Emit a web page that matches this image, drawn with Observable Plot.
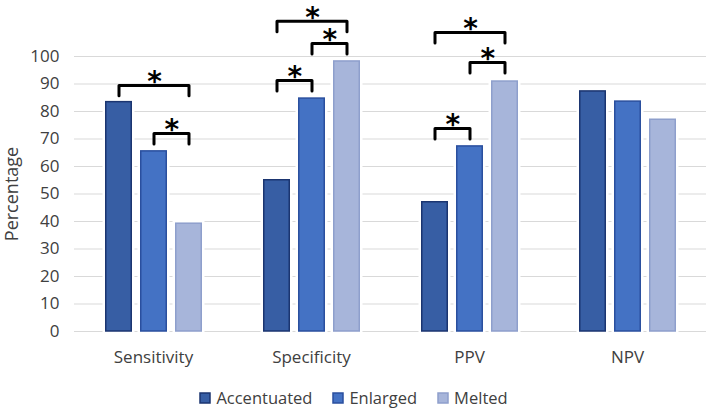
<!DOCTYPE html>
<html><head><meta charset="utf-8">
<script src="https://cdn.jsdelivr.net/npm/d3@7"></script>
<script src="https://cdn.jsdelivr.net/npm/@observablehq/plot@0.6"></script>
<style>
body{margin:0;background:#fff;}
#chart{width:708px;}
.lg-swatches{justify-content:center !important;margin:6px 0 0 0 !important;}
.lg-swatch{margin-right:21px !important;}
.lg-swatch:last-of-type{margin-right:0 !important;}
.lg-swatch > svg{margin-right:6px !important;}
.lg-swatch:nth-of-type(1) rect{stroke:#1b3570;stroke-width:1.5px;}
.lg-swatch:nth-of-type(2) rect{stroke:#2a4f9e;stroke-width:1.5px;}
.lg-swatch:nth-of-type(3) rect{stroke:#8e9fcc;stroke-width:1.5px;}
g[aria-label="y-axis label"] text{font-size:18px;}
</style></head><body><div id="chart"></div>
<script>
const categories = ["Sensitivity", "Specificity", "PPV", "NPV"];
const series = ["Accentuated", "Enlarged", "Melted"];
const accentuated = [83.4, 55.0, 47.0, 87.3];
const enlarged = [65.5, 84.7, 67.3, 83.6];
const melted = [39.2, 98.2, 90.9, 77.0];
const yTicks = [0, 10, 20, 30, 40, 50, 60, 70, 80, 90, 100];

// significance brackets
const bracketCategory = ["Sensitivity", "Sensitivity", "Specificity", "Specificity", "Specificity", "PPV", "PPV", "PPV"];
const bracketFrom = ["Accentuated", "Enlarged", "Accentuated", "Accentuated", "Enlarged", "Accentuated", "Enlarged", "Accentuated"];
const bracketTo = ["Melted", "Melted", "Enlarged", "Melted", "Melted", "Enlarged", "Melted", "Melted"];
const bracketTop = [89.5, 72.0, 91.3, 112.8, 104.7, 73.8, 97.8, 108.7];

const fills = ["#375ea4", "#4472c4", "#a7b5da"];
const strokes = ["#1b3570", "#2a4f9e", "#8e9fcc"];

const values = [accentuated, enlarged, melted];
const data = [];
series.forEach((s, si) => categories.forEach((c, ci) => data.push({cat: c, series: s, value: values[si][ci]})));

const W = 708, H = 375, ML = 74, MR = 2, MT = 56, MB = 44;
const pInner = 0.24, pOuter = 0.845;
const facetW = (W - ML - MR) / categories.length;
const step = facetW / (series.length - pInner + 2 * pOuter);
const leg = 3.8;

const bracketPts = [];
const stars = [];
bracketCategory.forEach((c, i) => {
  const top = bracketTop[i];
  bracketPts.push({id: i, cat: c, s: bracketFrom[i], v: top - leg});
  bracketPts.push({id: i, cat: c, s: bracketFrom[i], v: top});
  bracketPts.push({id: i, cat: c, s: bracketTo[i], v: top});
  bracketPts.push({id: i, cat: c, s: bracketTo[i], v: top - leg});
  stars.push({cat: c, s: bracketFrom[i], v: top, span: series.indexOf(bracketTo[i]) - series.indexOf(bracketFrom[i])});
});

const font = "'Open Sans', sans-serif";

const marks = [
  Plot.ruleY(yTicks, {stroke: "#d9d9d9", strokeWidth: 1.2}),
];
series.forEach((s, si) => {
  marks.push(Plot.barY(data, {filter: d => d.series === s, fx: "cat", x: "series", y: "value", fill: "white", stroke: "white", strokeWidth: 5}));
});
series.forEach((s, si) => {
  marks.push(Plot.barY(data, {filter: d => d.series === s, fx: "cat", x: "series", y: "value", fill: fills[si], stroke: strokes[si], strokeWidth: 1.5, insetLeft: 0.75, insetRight: 0.75}));
});
marks.push(Plot.line(bracketPts, {fx: "cat", x: "s", y: "v", z: "id", stroke: "black", strokeWidth: 3, strokeLinejoin: "round", strokeLinecap: "round"}));
[1, 2].forEach(sp => {
  marks.push(Plot.text(stars, {filter: d => d.span === sp, fx: "cat", x: "s", y: "v", text: () => "*", dx: sp * step / 2, dy: 5.5, lineAnchor: "bottom", fontSize: 28, fontWeight: "bold", fontFamily: "DejaVu Sans", fill: "black"}));
});

const chart = Plot.plot({
  width: W, height: H,
  marginLeft: ML, marginRight: MR, marginTop: MT, marginBottom: MB,
  style: {fontFamily: font, fontSize: "17px", color: "#404040", background: "white"},
  fx: {domain: categories, padding: 0, label: null, tickSize: 0, tickPadding: 19},
  x: {domain: series, paddingInner: pInner, paddingOuter: pOuter, axis: null},
  y: {domain: [0, 100], ticks: yTicks, tickSize: 0, tickPadding: 15, label: "Percentage", labelAnchor: "center", labelArrow: "none", labelOffset: 69},
  color: {domain: series, range: fills},
  marks
});
document.getElementById("chart").appendChild(chart);
const legend = Plot.legend({color: {domain: series, range: fills}, legend: "swatches", className: "lg", swatchSize: 10, style: {fontFamily: font, fontSize: "16.5px", color: "#404040"}});
document.getElementById("chart").appendChild(legend);
</script></body></html>
